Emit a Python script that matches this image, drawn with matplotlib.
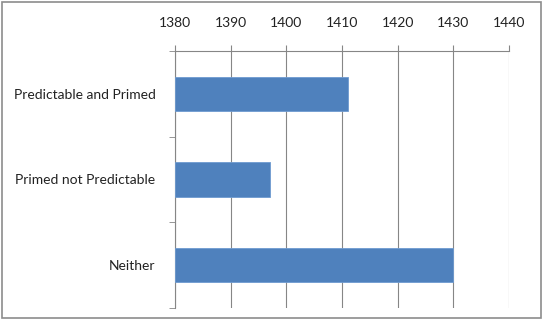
import matplotlib
matplotlib.use("Agg")
import matplotlib.pyplot as plt
from matplotlib.patches import Rectangle

categories = ["Neither", "Primed not Predictable", "Predictable and Primed"]
values = [1430, 1397, 1411]
xticks = [1380, 1390, 1400, 1410, 1420, 1430, 1440]

plt.rcParams['font.family'] = ['Lato', 'DejaVu Sans']

fig = plt.figure(figsize=(5.48, 3.21), dpi=100)
ax = fig.add_axes([175/548, 1-308/321, (509-175)/548, (308-51)/321])

base = 1380
ax.barh(range(len(categories)), [v - base for v in values], left=base, height=0.4,
        color='#4F81BD', edgecolor='#6F9BD0', linewidth=0.6, zorder=3)

ax.set_xlim(1380, 1440)
ax.set_ylim(-0.5, len(categories) - 0.5)
ax.set_xticks(xticks)
ax.xaxis.tick_top()
ax.tick_params(axis='x', direction='out', length=4, color='#868686', labelsize=10,
               labelcolor='#222222', pad=12)
ax.grid(axis='x', color='#868686', linewidth=0.8, zorder=0)

ax.set_yticks(range(len(categories)))
ax.set_yticklabels(categories)
ax.set_yticks([-0.5, 0.5, 1.5, 2.5], minor=True)
ax.tick_params(axis='y', which='major', length=0, labelsize=10, labelcolor='#222222', pad=14)
ax.tick_params(axis='y', which='minor', direction='out', length=4, color='#868686')

for s in ['right', 'bottom']:
    ax.spines[s].set_visible(False)
ax.spines['left'].set_color('#868686')
ax.spines['top'].set_color('#868686')

fig.patches.append(Rectangle((2/548, 3/321), 539/548, 316/321, transform=fig.transFigure,
                             fill=False, edgecolor='#8C8C8C', linewidth=1.2))

fig.savefig("out.png", dpi=100)
